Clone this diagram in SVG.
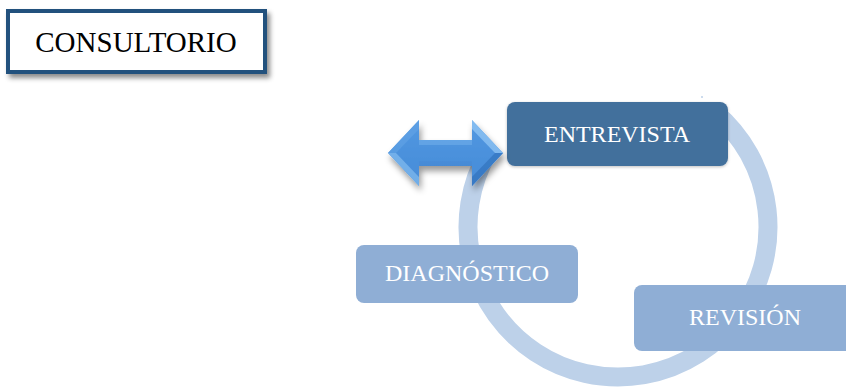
<svg xmlns="http://www.w3.org/2000/svg" width="846" height="388" viewBox="0 0 846 388">
  <defs>
    <style>
      .lbl { font-family: "Liberation Serif", "Times New Roman", serif; font-size: 24px; fill: #ffffff; text-anchor: middle; }
      .title { font-family: "Liberation Serif", "Times New Roman", serif; font-size: 29px; fill: #000000; text-anchor: middle; }
      .light { fill: #8FAED5; }
      .dark { fill: #43709C; }
      .ring { fill: none; stroke: #BDD1E9; stroke-width: 19; }
    </style>
    <filter id="shadow" x="-10%" y="-20%" width="130%" height="150%">
      <feDropShadow dx="3" dy="4" stdDeviation="2.5" flood-color="#000" flood-opacity="0.45"/>
    </filter>
    <filter id="ashadow" x="-20%" y="-30%" width="140%" height="170%">
      <feDropShadow dx="2" dy="5" stdDeviation="3" flood-color="#000" flood-opacity="0.4"/>
    </filter>
    <filter id="bshadow" x="-10%" y="-20%" width="120%" height="150%">
      <feDropShadow dx="0" dy="1" stdDeviation="1.5" flood-color="#000" flood-opacity="0.25"/>
    </filter>
    <linearGradient id="arrowGrad" x1="0" y1="0" x2="0" y2="1">
      <stop offset="0" stop-color="#5FA2E6"/>
      <stop offset="0.5" stop-color="#4A8FDA"/>
      <stop offset="1" stop-color="#3F83CF"/>
    </linearGradient>
  </defs>

  <rect width="846" height="388" fill="#ffffff"/>

  <g id="consultorio">
    <rect x="8" y="11" width="257" height="61" fill="#ffffff" stroke="#24517D" stroke-width="4" filter="url(#shadow)"/>
    <text class="title" x="136" y="52">CONSULTORIO</text>
  </g>

  <g id="connectors">
    <path class="ring" d="M 714.4 112.1 A 150 150 0 1 1 488.1 152"/>
    <circle cx="702" cy="97" r="1" fill="#BDD1E9"/>
  </g>

  <g id="diagnostico">
    <rect class="light" x="356" y="245" width="222" height="58" rx="8"/>
    <text class="lbl" x="467" y="281">DIAGNÓSTICO</text>
  </g>

  <g id="revision">
    <rect class="light" x="634" y="285" width="222" height="66" rx="8"/>
    <text class="lbl" x="745" y="325">REVISIÓN</text>
  </g>

  <g id="entrevista">
    <rect class="dark" x="507" y="102" width="221" height="64" rx="8" filter="url(#bshadow)"/>
    <text class="lbl" x="617" y="142">ENTREVISTA</text>
  </g>

  <g id="arrow" filter="url(#ashadow)">
    <polygon points="388,153 419,120 419,140 472,140 472,120 503,153 472,186 472,166 419,166 419,186" fill="url(#arrowGrad)"/>
    <polygon points="396,153 419,129 419,145 472,145 472,129 495,153 472,177 472,161 419,161 419,177" fill="#4D93DD" opacity="0.6"/>
    <polygon points="388,153 396,153 419,177 419,186" fill="#7DB8EE" opacity="0.8"/>
    <polygon points="472,120 503,153 495,153 472,129" fill="#8CC2F2" opacity="0.8"/>
    <polygon points="419,140 472,140 472,145 419,145" fill="#6AAAE8" opacity="0.7"/>
    <polygon points="388,153 419,120 419,129 396,153" fill="#5C9FE3" opacity="0.8"/>
    <polygon points="503,153 472,186 472,177 495,153" fill="#3677C2" opacity="0.8"/>
  </g>
</svg>
